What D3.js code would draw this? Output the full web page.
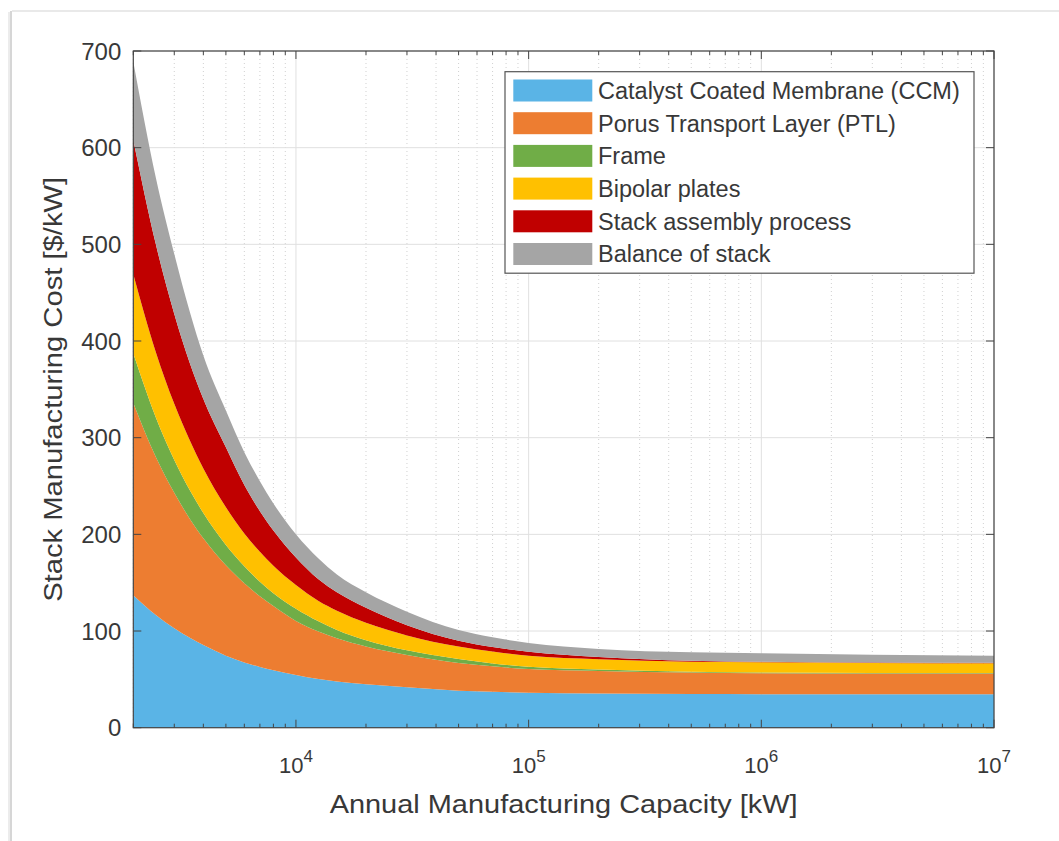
<!DOCTYPE html>
<html><head><meta charset="utf-8">
<script src="https://cdn.jsdelivr.net/npm/d3@7"></script>
<style>html,body{margin:0;padding:0;background:#fff;}svg{display:block;}</style>
</head><body><svg id="c" width="1059" height="841"></svg>
<script>
const capacity = [2000, 2500, 3000, 3500, 4000, 5000, 6000, 7000, 8000, 10000, 12500, 15000, 20000, 30000, 50000, 70000, 100000, 200000, 500000, 1000000, 3000000, 10000000];
const ccm      = [137, 116.5, 102.8, 93, 85.5, 74.5, 67.5, 62.8, 59.3, 54.5, 50.3, 47.7, 45, 41.8, 38.3, 37.2, 36.2, 35.5, 34.9, 34.7, 34.6, 34.5];
const ptl      = [199, 163.5, 140.2, 123, 110.5, 93.5, 82, 73.2, 66.7, 56, 49.2, 44.8, 39, 33.4, 28.7, 26.3, 24.4, 23.2, 22.1, 21.5, 21.4, 21.5];
const frame    = [51, 41, 34, 29.5, 26, 21, 17.5, 15, 13, 12.5, 10.5, 8.5, 6.5, 4.8, 4, 3, 2.5, 1.5, 0.8, 0.8, 0.7, 0.5];
const bipolar  = [82, 67.5, 58, 51.5, 46, 39, 34, 31, 28.5, 24.5, 21, 20, 18, 15.5, 13, 12.3, 11.3, 10.6, 10.4, 10.7, 10.3, 10.1];
const assembly = [139, 111.5, 93, 80, 72, 62, 50, 42, 36.5, 28.5, 22.5, 19, 15.5, 10.5, 6, 4.7, 4.2, 2.4, 1, 0.4, 0.4, 0.5];
const balance  = [81, 69, 62, 53, 45, 38, 34, 31, 28, 24, 21.5, 18.5, 16, 14, 11, 10, 8.9, 8.3, 8.8, 8.9, 8.1, 7.4];
const seriesNames = ["Catalyst Coated Membrane (CCM)", "Porus Transport Layer (PTL)", "Frame", "Bipolar plates", "Stack assembly process", "Balance of stack"];
const seriesColors = ["#5AB4E6", "#ED7D31", "#70AD47", "#FFC000", "#C00000", "#A5A5A5"];
const yTicks = [0, 100, 200, 300, 400, 500, 600, 700];
const xTicks = [1e4, 1e5, 1e6, 1e7];
const xLabel = "Annual Manufacturing Capacity [kW]";
const yLabel = "Stack Manufacturing Cost [$/kW]";

const svg = d3.select("#c");
const W = 1059, H = 841;
const L = 133.3, R = 994, T = 51, B = 727.7;
const font = "'Liberation Sans', Arial, Helvetica, sans-serif";
const ink = "#383838";

// outer frame (screenshot border)
svg.append("rect").attr("x", 0).attr("y", 0).attr("width", W).attr("height", H).attr("fill", "#fff");
svg.append("line").attr("x1", 12).attr("x2", W).attr("y1", 11).attr("y2", 11).attr("stroke", "#e2e2e2").attr("stroke-width", 1.5);
svg.append("line").attr("x1", 11).attr("x2", 11).attr("y1", 11).attr("y2", H).attr("stroke", "#c8c8c8").attr("stroke-width", 1.5);
svg.append("line").attr("x1", 9).attr("x2", 9).attr("y1", 12).attr("y2", H).attr("stroke", "#ececec").attr("stroke-width", 2);

const x = d3.scaleLog().domain([2000, 1e7]).range([L, R]);
const y = d3.scaleLinear().domain([0, 700]).range([B, T]);

const g = svg.append("g");

// grid
const minorX = [];
for (let e = 3; e < 7; e++) for (let m = 2; m < 10; m++) { const v = m * Math.pow(10, e); if (v >= 2000 && v <= 1e7) minorX.push(v); }
g.selectAll(".mg").data(minorX).join("line").attr("x1", d => x(d)).attr("x2", d => x(d)).attr("y1", T).attr("y2", B)
  .attr("stroke", "#d0d0d0").attr("stroke-width", 1).attr("stroke-dasharray", "1,3");
g.selectAll(".gx").data(xTicks).join("line").attr("x1", d => x(d)).attr("x2", d => x(d)).attr("y1", T).attr("y2", B)
  .attr("stroke", "#e0e0e0").attr("stroke-width", 1);
g.selectAll(".gy").data(yTicks).join("line").attr("x1", L).attr("x2", R).attr("y1", d => y(d)).attr("y2", d => y(d))
  .attr("stroke", "#e0e0e0").attr("stroke-width", 1);

// stacked areas
const table = capacity.map((c, i) => ({ c, s0: ccm[i], s1: ptl[i], s2: frame[i], s3: bipolar[i], s4: assembly[i], s5: balance[i] }));
const stack = d3.stack().keys(["s0", "s1", "s2", "s3", "s4", "s5"])(table);
const area = d3.area().x(d => x(d.data.c)).y0(d => y(d[0])).y1(d => y(d[1])).curve(d3.curveMonotoneX);
g.selectAll(".ar").data(stack).join("path").attr("d", area).attr("fill", (d, i) => seriesColors[i]).attr("stroke", "none");

// axes box
const axc = "#444";
g.append("rect").attr("x", L).attr("y", T).attr("width", R - L).attr("height", B - T).attr("fill", "none").attr("stroke", axc).attr("stroke-width", 1.2);

// ticks (inward, both sides)
const majorLen = 8, minorLen = 4;
yTicks.forEach(v => {
  g.append("line").attr("x1", L).attr("x2", L + majorLen).attr("y1", y(v)).attr("y2", y(v)).attr("stroke", axc);
  g.append("line").attr("x1", R).attr("x2", R - majorLen).attr("y1", y(v)).attr("y2", y(v)).attr("stroke", axc);
});
xTicks.forEach(v => {
  g.append("line").attr("x1", x(v)).attr("x2", x(v)).attr("y1", B).attr("y2", B - majorLen).attr("stroke", axc);
  g.append("line").attr("x1", x(v)).attr("x2", x(v)).attr("y1", T).attr("y2", T + majorLen).attr("stroke", axc);
});
minorX.forEach(v => {
  g.append("line").attr("x1", x(v)).attr("x2", x(v)).attr("y1", B).attr("y2", B - minorLen).attr("stroke", axc);
  g.append("line").attr("x1", x(v)).attr("x2", x(v)).attr("y1", T).attr("y2", T + minorLen).attr("stroke", axc);
});

// y tick labels
g.selectAll(".yl").data(yTicks).join("text").attr("x", L - 12).attr("y", d => y(d)).attr("dy", "0.36em")
  .attr("text-anchor", "end").attr("font-family", font).attr("font-size", 24).attr("fill", ink).text(d => d);

// x tick labels 10^n
xTicks.forEach(v => {
  const e = Math.round(Math.log10(v));
  const t = g.append("text").attr("x", x(v)).attr("y", 773).attr("text-anchor", "middle")
    .attr("font-family", font).attr("font-size", 22).attr("fill", ink);
  t.append("tspan").text("10");
  t.append("tspan").attr("dy", -11).attr("font-size", 17).text(e);
});

// axis labels
g.append("text").attr("x", (L + R) / 2).attr("y", 813).attr("text-anchor", "middle").attr("font-family", font)
  .attr("font-size", 26).attr("fill", ink).attr("textLength", 468).attr("lengthAdjust", "spacingAndGlyphs").text(xLabel);
g.append("text").attr("transform", `translate(62,${(T + B) / 2}) rotate(-90)`).attr("text-anchor", "middle").attr("font-family", font)
  .attr("font-size", 26).attr("fill", ink).attr("textLength", 425).attr("lengthAdjust", "spacingAndGlyphs").text(yLabel);

// legend
const lg = g.append("g");
const lx = 505, ly = 71.7, lw = 469, lh = 201.5;
lg.append("rect").attr("x", lx).attr("y", ly).attr("width", lw).attr("height", lh).attr("fill", "#fff").attr("stroke", "#555").attr("stroke-width", 1.2);
seriesNames.forEach((n, i) => {
  const cy = 90.5 + i * 32.7;
  lg.append("rect").attr("x", 513.3).attr("y", cy - 11).attr("width", 79).attr("height", 22).attr("fill", seriesColors[i]);
  lg.append("text").attr("x", 598).attr("y", cy).attr("dy", "0.36em").attr("font-family", font).attr("font-size", 23.5).attr("fill", ink).text(n);
});
</script></body></html>
